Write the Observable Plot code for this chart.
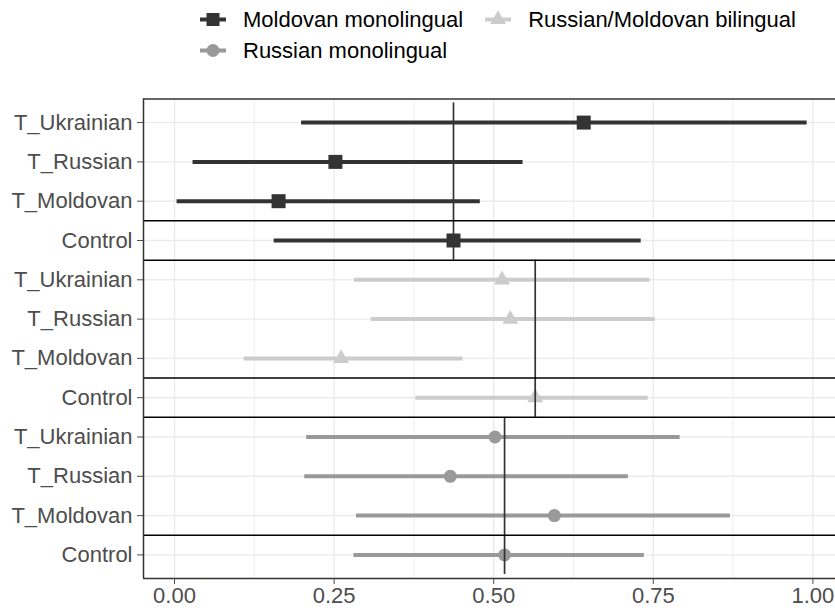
<!DOCTYPE html>
<html>
<head>
<meta charset="utf-8">
<script src="https://cdn.jsdelivr.net/npm/d3@7"></script>
<script src="https://cdn.jsdelivr.net/npm/@observablehq/plot@0.6"></script>
<style>
  html, body { margin: 0; padding: 0; background: #fff; }
  body { width: 835px; height: 611px; overflow: hidden; font-family: "Liberation Sans", Arial, Helvetica, sans-serif; }
  #legend { height: 88px; box-sizing: border-box; padding-top: 4px; padding-left: 200px;
    display: grid; grid-template-rows: 31px 31px; grid-auto-flow: column; grid-auto-columns: max-content; column-gap: 22px; }
  .item { display: flex; align-items: center; font-size: 22px; color: #000; white-space: nowrap; }
  .item svg { margin-right: 17px; flex: none; }
</style>
</head>
<body>
<div id="legend"></div>
<div id="chart"></div>
<script>
// ---- data ----
const rowLabels = ["T_Ukrainian", "T_Russian", "T_Moldovan", "Control"];
const groupNames = ["Moldovan monolingual", "Russian/Moldovan bilingual", "Russian monolingual"];
const groupColors = ["#333333", "#cccccc", "#999999"];
const groupSymbols = ["square", "triangle", "circle"];
const legendOrder = [0, 2, 1]; // column-major: Moldovan, Russian, bilingual

const moldovanEst = [0.641, 0.252, 0.163, 0.437];
const moldovanLo  = [0.199, 0.029, 0.004, 0.156];
const moldovanHi  = [0.991, 0.546, 0.479, 0.731];

const bilingualEst = [0.513, 0.526, 0.261, 0.565];
const bilingualLo  = [0.282, 0.308, 0.109, 0.378];
const bilingualHi  = [0.745, 0.753, 0.452, 0.742];

const russianEst = [0.502, 0.432, 0.595, 0.517];
const russianLo  = [0.207, 0.204, 0.285, 0.281];
const russianHi  = [0.792, 0.711, 0.871, 0.736];

const xTicks = [0, 0.25, 0.5, 0.75, 1];
const xMinor = [0.125, 0.375, 0.625, 0.875];

// ---- build table ----
const series = [
  [moldovanEst, moldovanLo, moldovanHi],
  [bilingualEst, bilingualLo, bilingualHi],
  [russianEst, russianLo, russianHi]
];
const rows = [];
series.forEach(([est, lo, hi], g) => {
  rowLabels.forEach((lab, k) => {
    rows.push({idx: g * 4 + k, label: lab, group: groupNames[g], est: est[k], lo: lo[k], hi: hi[k]});
  });
});
const rowIdx = rows.map(d => d.idx);
const controls = rows.filter(d => d.label === "Control").map((d, g) => ({
  group: d.group, x: d.est, y1: g * 4 - 0.5, y2: g * 4 + 3.5
}));
const separators = [];
groupNames.forEach((_, g) => {
  separators.push(g * 4 + 2.5);
  if (g < groupNames.length - 1) separators.push(g * 4 + 3.5);
});

const yDomain = [-0.6, rows.length - 1 + 0.6];
const xDomain = [-0.0486, 1.0354];

const colorScale = {domain: groupNames, range: groupColors};

const chart = Plot.plot({
  width: 835,
  height: 523,
  marginLeft: 143,
  marginRight: 0,
  marginTop: 10.5,
  marginBottom: 33,
  style: {fontFamily: '"Liberation Sans", Arial, Helvetica, sans-serif', fontSize: "22px", background: "#fff"},
  x: {domain: xDomain},
  y: {domain: yDomain, reverse: true},
  color: colorScale,
  symbol: {domain: groupNames, range: groupSymbols},
  marks: [
    Plot.ruleX(xMinor, {stroke: "#ebebeb", strokeWidth: 0.9}),
    Plot.ruleX(xTicks, {stroke: "#ebebeb", strokeWidth: 1.4}),
    Plot.ruleY(rowIdx, {stroke: "#ebebeb", strokeWidth: 1.4}),
    Plot.ruleY(rows, {y: "idx", x1: "lo", x2: "hi", stroke: "group", strokeWidth: 4}),
    Plot.dot(rows.filter(d => d.group === groupNames[0]), {x: "est", y: "idx", symbol: "group", fill: "group", r: 7.9}),
    Plot.dot(rows.filter(d => d.group === groupNames[1]), {x: "est", y: "idx", symbol: "group", fill: "group", r: 5.9}),
    Plot.dot(rows.filter(d => d.group === groupNames[2]), {x: "est", y: "idx", symbol: "group", fill: "group", r: 6.5}),
    Plot.ruleX(controls, {x: "x", y1: "y1", y2: "y2", stroke: "#333", strokeWidth: 1.7}),
    Plot.ruleY(separators, {stroke: "#000", strokeWidth: 1.5}),
    Plot.ruleY(yDomain, {stroke: "#333", strokeWidth: 1.5}),
    Plot.ruleX([xDomain[0]], {stroke: "#333", strokeWidth: 1.5}),
    Plot.axisY(rowIdx, {tickFormat: i => rows[i].label, tickSize: 6, tickPadding: 5, color: "#4d4d4d", label: null, fontSize: 22}),
    Plot.axisX(xTicks, {tickFormat: d3.format(".2f"), tickSize: 6, tickPadding: 3, color: "#4d4d4d", label: null, fontSize: 22})
  ]
});
document.getElementById("chart").appendChild(chart);

// ---- legend ----
const legend = d3.select("#legend");
legendOrder.forEach(g => {
  const item = legend.append("div").attr("class", "item");
  const svg = item.append("svg").attr("width", 26).attr("height", 31);
  svg.append("line").attr("x1", 0).attr("x2", 26).attr("y1", 15.5).attr("y2", 15.5)
    .attr("stroke", groupColors[g]).attr("stroke-width", 4);
  const sym = {square: d3.symbolSquare, triangle: d3.symbolTriangle, circle: d3.symbolCircle}[groupSymbols[g]];
  const size = {square: 13 * 13, triangle: Math.PI * 5.9 * 5.9, circle: Math.PI * 6.5 * 6.5}[groupSymbols[g]];
  svg.append("path").attr("transform", "translate(13,15.5)")
    .attr("d", d3.symbol(sym, size)()).attr("fill", groupColors[g]);
  item.append("span").text(groupNames[g]);
});
</script>
</body>
</html>
